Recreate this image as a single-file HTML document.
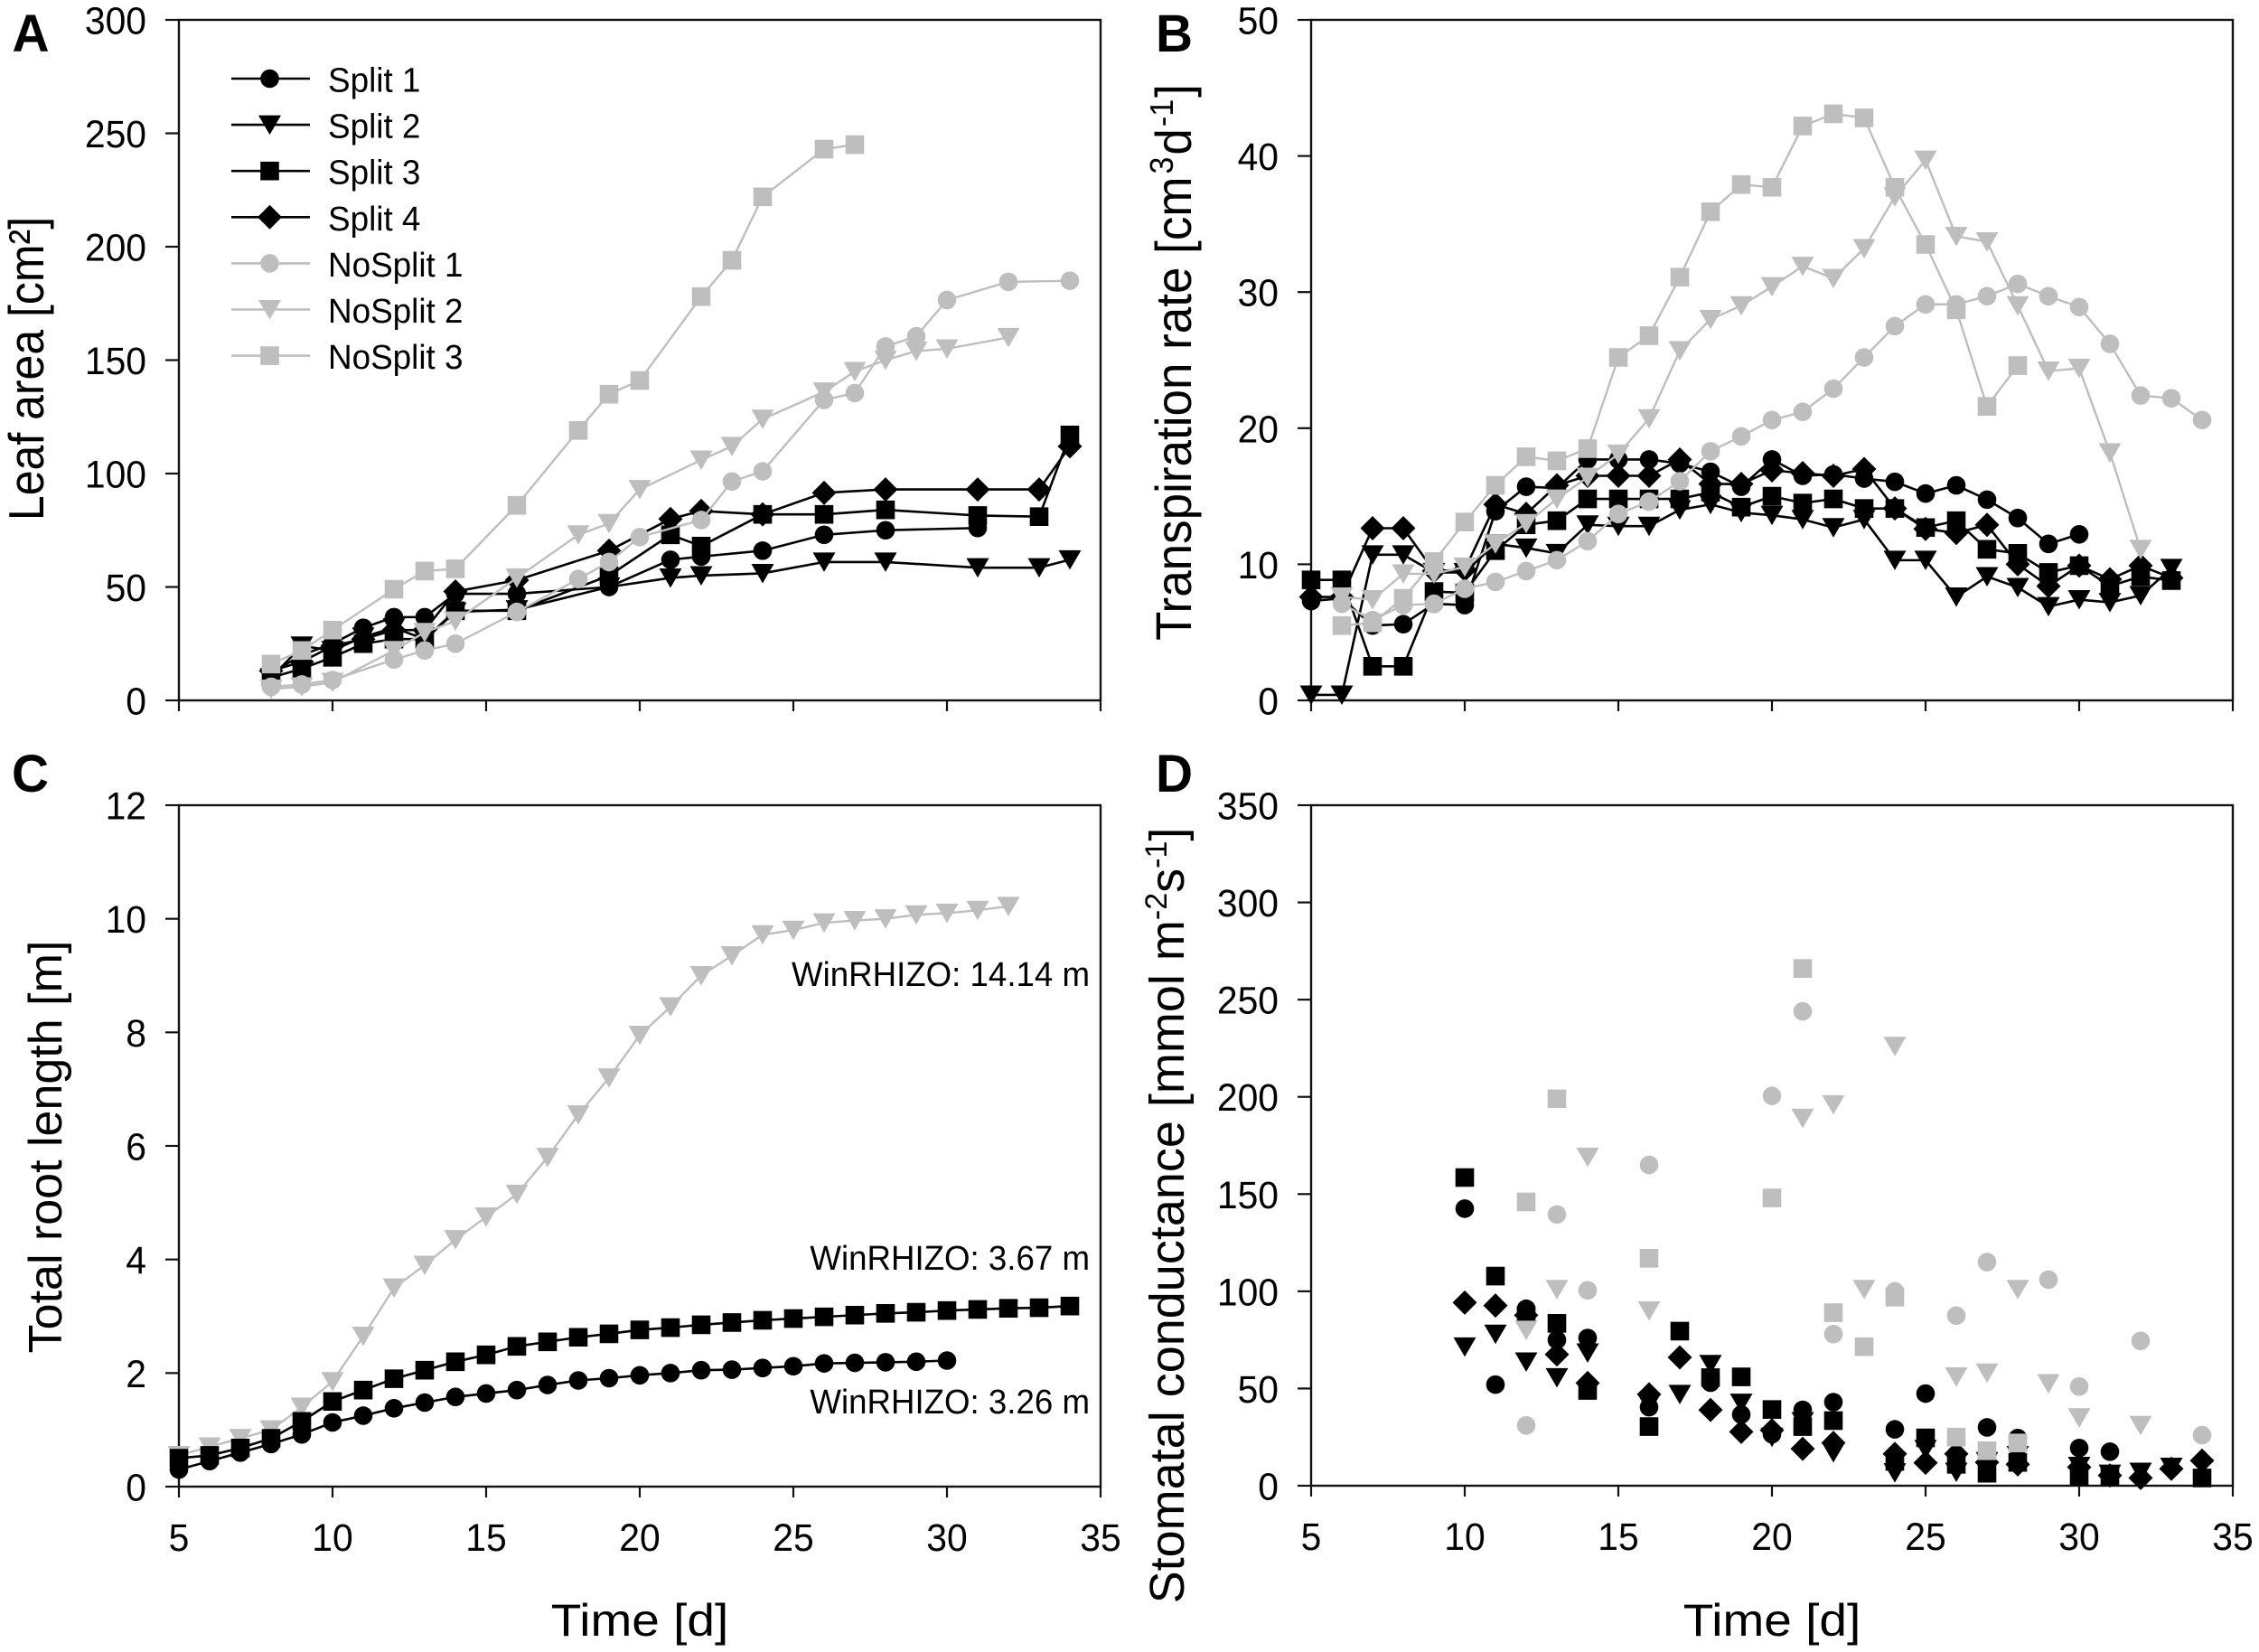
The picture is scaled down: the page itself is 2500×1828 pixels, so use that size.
<!DOCTYPE html>
<html lang="en">
<head>
<meta charset="utf-8">
<title>Leaf area, transpiration, root length and stomatal conductance</title>
<style>
html,body{margin:0;padding:0;background:#fff;}
svg{display:block;}
text{font-family:"Liberation Sans",Arial,sans-serif;fill:#000;}
</style>
</head>
<body>
<svg id="figure" xmlns="http://www.w3.org/2000/svg" width="2500" height="1828" viewBox="0 0 2500 1828">
<rect x="0" y="0" width="2500" height="1828" fill="#fff"/>
<text transform="translate(13.5,57) scale(0.98,1)" font-size="58" font-weight="bold">A</text>
<text transform="translate(1279,57) scale(0.98,1)" font-size="58" font-weight="bold">B</text>
<text transform="translate(13,876) scale(0.98,1)" font-size="58" font-weight="bold">C</text>
<text transform="translate(1279,876) scale(0.98,1)" font-size="58" font-weight="bold">D</text>
<text transform="translate(48,408) scale(1.1,1) rotate(-90)" text-anchor="middle" font-size="50">Leaf area [cm²]</text>
<text transform="translate(1318,401) scale(1.05,1) rotate(-90)" text-anchor="middle" font-size="53">Transpiration rate [cm<tspan font-size="34" dy="-19" dx="3">3</tspan><tspan dy="19" dx="2">d</tspan><tspan font-size="34" dy="-19" dx="2">-1</tspan><tspan dy="19" dx="2">]</tspan></text>
<text transform="translate(68,1269)  rotate(-90)" text-anchor="middle" font-size="52">Total root length [m]</text>
<text transform="translate(1310,1345) rotate(-90)" text-anchor="middle" font-size="54">Stomatal conductance [mmol m<tspan font-size="34" dy="-19">-2</tspan><tspan dy="19">s</tspan><tspan font-size="34" dy="-19">-1</tspan><tspan dy="19">]</tspan></text>
<text transform="translate(708,1810) scale(1.1,1)" text-anchor="middle" font-size="50">Time [d]</text>
<text transform="translate(1961,1810) scale(1.1,1)" text-anchor="middle" font-size="50">Time [d]</text>
<text transform="translate(1206,1091) scale(0.965,1)" text-anchor="end" font-size="38">WinRHIZO: 14.14 m</text>
<text transform="translate(1206,1405) scale(0.965,1)" text-anchor="end" font-size="38">WinRHIZO: 3.67 m</text>
<text transform="translate(1206,1564) scale(0.965,1)" text-anchor="end" font-size="38">WinRHIZO: 3.26 m</text>
<g id="plots"></g>
</svg>
<script>
// ---- Axis tick labels ----
const xTicks = [5, 10, 15, 20, 25, 30, 35];
const leafTicks = [0, 50, 100, 150, 200, 250, 300];
const transpirationTicks = [0, 10, 20, 30, 40, 50];
const rootTicks = [0, 2, 4, 6, 8, 10, 12];
const stomatalTicks = [0, 50, 100, 150, 200, 250, 300, 350];
const legendLabels = ["Split 1", "Split 2", "Split 3", "Split 4", "NoSplit 1", "NoSplit 2", "NoSplit 3"];

// ---- Panel A: leaf area ----
const leafDaysSplit = [8, 9, 10, 11, 12, 13, 14, 16, 19, 21, 22, 24, 26, 28, 31];
const leafSplit1 = [12, 20, 25, 32, 36.7, 36.7, 47, 47, 50, 62, 63.4, 66, 73, 75, 76];
const leafDaysSplit2to4 = [8, 9, 10, 11, 12, 13, 14, 16, 19, 21, 22, 24, 26, 28, 31, 33, 34];
const leafSplit2 = [10, 24, 22, 28, 32, 27, 39, 40, 50, 54, 55, 56, 61, 61, 58.5, 58.5, 62];
const leafSplit3 = [10, 14, 19, 25, 27, 27, 39.5, 39.5, 55, 73, 68, 82, 82, 84, 81.5, 81, 117];
const leafSplit4 = [13, 17, 24, 27, 31, 31, 48, 53, 66, 80, 83.5, 82, 91.5, 93, 93, 93, 112];
const leafDaysNo1 = [8, 9, 10, 12, 13, 14, 16, 18, 19, 20, 22, 23, 24, 26, 27, 28, 29, 30, 32, 34];
const leafNo1 = [6, 7, 9, 18, 22, 25, 39, 53.5, 61, 72, 79.5, 96.5, 101, 132.5, 135.5, 156, 160.5, 176.5, 184.5, 185];
const leafDaysNo2 = [8, 9, 10, 12, 13, 14, 16, 18, 19, 20, 22, 23, 24, 26, 27, 28, 29, 30, 32];
const leafNo2 = [5, 6, 8, 22, 30, 35, 54, 73, 78, 93, 106, 112, 124, 136, 145, 150, 154, 155, 160];
const leafDaysNo3 = [8, 9, 10, 12, 13, 14, 16, 18, 19, 20, 22, 23, 24, 26, 27];
const leafNo3 = [16, 22, 31, 49, 57, 58, 86, 119, 135, 141, 178, 194, 222, 243, 245];

// ---- Panel B: transpiration rate ----
const transDaysSplit1 = [5, 6, 7, 8, 9, 10, 11, 12, 13, 14, 15, 16, 17, 18, 19, 20, 21, 22, 23, 24, 25, 26, 27, 28, 29, 30];
const transSplit1 = [7.3, 7.5, 5.5, 5.6, 7.1, 7, 13.9, 15.7, 15.6, 17.7, 17.7, 17.7, 17.4, 16.8, 15.7, 17.7, 16.5, 16.6, 16.3, 16.06, 15.2, 15.8, 14.75, 13.4, 11.5, 12.2];
const transDaysSplit2to4 = [5, 6, 7, 8, 9, 10, 11, 12, 13, 14, 15, 16, 17, 18, 19, 20, 21, 22, 23, 24, 25, 26, 27, 28, 29, 30, 31, 32, 33];
const transSplit2 = [0.4, 0.4, 10.7, 10.7, 9.4, 9.4, 11.5, 11.2, 10.8, 12.9, 12.8, 12.8, 14, 14.4, 13.8, 13.6, 13.3, 12.7, 13.3, 10.3, 10.3, 7.6, 9.1, 8.3, 6.9, 7.4, 7.2, 7.7, 9.7];
const transSplit3 = [8.85, 8.85, 2.5, 2.5, 8, 7.9, 11, 12.9, 13.2, 14.8, 14.8, 14.8, 14.8, 15.3, 14.2, 15, 14.5, 14.8, 14.1, 14.1, 12.7, 13.2, 11.1, 10.8, 9.4, 9.9, 8.4, 9.1, 8.8];
const transSplit4 = [7.6, 7.6, 12.65, 12.65, 9.5, 9.6, 14.4, 13.7, 15.8, 16.5, 16.5, 16.5, 17.7, 15.9, 15.9, 16.9, 16.7, 16.5, 17, 14.1, 12.6, 12.3, 12.9, 10, 8.4, 9.9, 8.9, 9.9, 9];
const transDaysNo1 = [6, 7, 8, 9, 10, 11, 12, 13, 14, 15, 16, 17, 18, 19, 20, 21, 22, 23, 24, 25, 26, 27, 28, 29, 30, 31, 32, 33, 34];
const transNo1 = [7.1, 5.9, 7, 7.1, 8.2, 8.7, 9.5, 10.3, 11.7, 13.7, 14.6, 16.1, 18.3, 19.4, 20.6, 21.2, 22.9, 25.2, 27.5, 29.1, 29.1, 29.7, 30.6, 29.7, 28.9, 26.2, 22.4, 22.2, 20.6];
const transDaysNo2 = [6, 7, 8, 9, 10, 11, 12, 13, 14, 15, 16, 17, 18, 19, 20, 21, 22, 23, 24, 25, 26, 27, 28, 29, 30, 31, 32];
const transNo2 = [7.6, 7.4, 9.3, 9.3, 9.8, 11.5, 13, 14.8, 16.4, 18.1, 20.7, 25.7, 28, 29, 30.4, 31.9, 31, 33.2, 37, 39.7, 34.1, 33.7, 29, 24.2, 24.4, 18.2, 11.1];
const transDaysNo3 = [6, 7, 8, 9, 10, 11, 12, 13, 14, 15, 16, 17, 18, 19, 20, 21, 22, 23, 24, 25, 26, 27, 28];
const transNo3 = [5.5, 5.7, 7.5, 10.2, 13.1, 15.8, 17.9, 17.6, 18.5, 25.2, 26.8, 31.1, 35.9, 37.9, 37.7, 42.2, 43.1, 42.8, 37.7, 33.5, 28.7, 21.6, 24.6];

// ---- Panel C: total root length ----
const rootDaysCircle = [5, 6, 7, 8, 9, 10, 11, 12, 13, 14, 15, 16, 17, 18, 19, 20, 21, 22, 23, 24, 25, 26, 27, 28, 29, 30];
const rootCircle = [0.3, 0.45, 0.6, 0.75, 0.92, 1.13, 1.25, 1.38, 1.48, 1.58, 1.64, 1.7, 1.79, 1.87, 1.91, 1.96, 2, 2.05, 2.06, 2.09, 2.12, 2.17, 2.18, 2.19, 2.2, 2.22];
const rootDaysSquare = [5, 6, 7, 8, 9, 10, 11, 12, 13, 14, 15, 16, 17, 18, 19, 20, 21, 22, 23, 24, 25, 26, 27, 28, 29, 30, 31, 32, 33, 34];
const rootSquare = [0.5, 0.55, 0.68, 0.85, 1.15, 1.5, 1.7, 1.9, 2.05, 2.2, 2.32, 2.47, 2.55, 2.63, 2.69, 2.76, 2.8, 2.85, 2.89, 2.93, 2.96, 2.99, 3.02, 3.05, 3.07, 3.1, 3.12, 3.14, 3.15, 3.18];
const rootDaysNoSplit = [5, 6, 7, 8, 9, 10, 11, 12, 13, 14, 15, 16, 17, 18, 19, 20, 21, 22, 23, 24, 25, 26, 27, 28, 29, 30, 31, 32];
const rootNoSplit = [0.55, 0.7, 0.85, 1, 1.4, 1.85, 2.65, 3.5, 3.9, 4.35, 4.75, 5.15, 5.8, 6.55, 7.2, 7.95, 8.45, 9, 9.35, 9.72, 9.8, 9.93, 9.97, 10, 10.07, 10.1, 10.15, 10.22];

// ---- Panel D: stomatal conductance ----
const gsDaysSplit1 = [10, 11, 12, 13, 14, 16, 18, 19, 20, 21, 22, 24, 25, 26, 27, 28, 30, 31];
const gsSplit1 = [142.5, 52, 91, 75, 76, 40.4, 53, 36.6, 26.5, 39, 43, 29, 47.4, 16, 30, 24.5, 19.4, 17.5];
const gsDaysSplit2 = [10, 11, 12, 13, 14, 16, 17, 18, 19, 20, 21, 22, 24, 25, 26, 27, 28, 30, 31, 32, 33];
const gsSplit2 = [71.4, 78, 63.7, 55.6, 68.3, 42, 47, 62.4, 42.5, 25, 33, 17, 6.7, 18.7, 7, 12.5, 15.6, 10, 6, 7, 9.5];
const gsDaysSplit3 = [10, 11, 12, 13, 14, 16, 17, 18, 19, 20, 21, 22, 24, 25, 26, 27, 28, 30, 31, 34];
const gsSplit3 = [158.5, 107.8, 87.7, 83.5, 49, 30.4, 79.5, 55.6, 56, 39.2, 30.4, 33.5, 12.5, 24.6, 11, 6.4, 12, 5, 5, 4];
const gsDaysSplit4 = [10, 11, 12, 13, 14, 16, 17, 18, 19, 20, 21, 22, 24, 25, 26, 27, 28, 30, 31, 32, 33, 34];
const gsSplit4 = [94.2, 92.7, 87.7, 67.5, 52.8, 47, 66, 39, 27.7, 28.5, 19, 22, 16.4, 11.8, 16.4, 12, 11, 9.5, 5.3, 4, 8.7, 12.9];
const gsDaysNo1 = [12, 13, 14, 16, 20, 21, 22, 24, 26, 27, 29, 30, 32, 34];
const gsNo1 = [31, 139.5, 100.5, 165, 200.5, 244, 78, 100, 87.5, 115, 106, 51, 74.5, 26];
const gsDaysNo2 = [12, 13, 14, 16, 21, 22, 23, 24, 26, 27, 28, 29, 30, 32];
const gsNo2 = [80, 101, 169, 90, 189, 196, 101, 226, 56, 58, 101, 52.5, 35, 31];
const gsDaysNo3 = [12, 13, 16, 20, 21, 22, 23, 24, 26, 27, 28];
const gsNo3 = [146, 199, 117, 148, 266, 89, 71.5, 97, 25, 18, 22];

const SVGNS = "http://www.w3.org/2000/svg";
const GRAY = "#bebebe";
const INK = "#111";
const plots = document.getElementById("plots");

function make(tag, attrs, parent) {
  const el = document.createElementNS(SVGNS, tag);
  for (const k in attrs) el.setAttribute(k, attrs[k]);
  (parent || plots).appendChild(el);
  return el;
}

function markerPath(shape) {
  if (shape === "triangle") return "M-12.5,-10.5 L12.5,-10.5 L0,11 Z";
  if (shape === "square") return "M-10.3,-10.3 L10.3,-10.3 L10.3,10.3 L-10.3,10.3 Z";
  if (shape === "diamond") return "M-13.5,0 L0,-13.5 L13.5,0 L0,13.5 Z";
  return "M-10.3,0 A10.3,10.3 0 1 1 10.3,0 A10.3,10.3 0 1 1 -10.3,0 Z";
}

function drawMarker(group, shape, color, px, py) {
  const m = make("path", { d: markerPath(shape), fill: color, transform: "translate(" + px + "," + py + ")" }, group);
  
  
}

function drawAxes(panel) {
  const g = make("g", {});
  
  
  const frame = make("rect", { x: panel.left, y: panel.top, width: panel.right - panel.left, height: panel.bottom - panel.top, fill: "none", stroke: INK, "stroke-width": 2.4 }, g);
  
  
  xTicks.forEach(function (t) {
    const px = panel.x(t);
    const tick = make("line", { x1: px, x2: px, y1: panel.bottom, y2: panel.bottom + 12, stroke: INK, "stroke-width": 2.2 }, g);
    
    
    if (panel.xLabels) {
      const label = make("text", { transform: "translate(" + px + "," + (panel.bottom + 71) + ") scale(0.95,1)", "text-anchor": "middle", "font-size": 43 }, g);
      label.textContent = t;
      
      
    }
  });
  panel.yTicks.forEach(function (t) {
    const py = panel.y(t);
    const tick = make("line", { x1: panel.left - 15, x2: panel.left, y1: py, y2: py, stroke: INK, "stroke-width": 2.2 }, g);
    
    
    const label = make("text", { transform: "translate(" + (panel.left - 36) + "," + (py + 15.5) + ") scale(0.95,1)", "text-anchor": "end", "font-size": 43 }, g);
    label.textContent = t;
    
    
  });
}

function drawSeries(panel, name, days, values, shape, color, connected) {
  const g = make("g", {});
  
  
  if (connected) {
    const pts = days.map(function (d, i) { return panel.x(d) + "," + panel.y(values[i]); }).join(" ");
    const line = make("polyline", { points: pts, fill: "none", stroke: color, "stroke-width": color === GRAY ? 2.4 : 2.6, "stroke-linejoin": "round" }, g);
    
    
  }
  days.forEach(function (d, i) { drawMarker(g, shape, color, panel.x(d), panel.y(values[i])); });
}

function makePanel(name, left, top, bottom, yMax, yTicks, xLabels) {
  const right = left + 1020;
  return {
    name: name, left: left, right: right, top: top, bottom: bottom, yTicks: yTicks, xLabels: xLabels,
    x: function (d) { return left + (d - 5) * (right - left) / 30; },
    y: function (v) { return bottom - v * (bottom - top) / yMax; }
  };
}

const panelA = makePanel("leaf-area-panel", 198, 22, 775, 300, leafTicks, false);
const panelB = makePanel("transpiration-panel", 1451, 22, 775, 50, transpirationTicks, false);
const panelC = makePanel("root-length-panel", 198, 891, 1645, 12, rootTicks, true);
const panelD = makePanel("stomatal-panel", 1451, 891, 1644, 350, stomatalTicks, true);
[panelA, panelB, panelC, panelD].forEach(drawAxes);

drawSeries(panelA, "split-1", leafDaysSplit, leafSplit1, "circle", "#000", true);
drawSeries(panelA, "split-2", leafDaysSplit2to4, leafSplit2, "triangle", "#000", true);
drawSeries(panelA, "split-3", leafDaysSplit2to4, leafSplit3, "square", "#000", true);
drawSeries(panelA, "split-4", leafDaysSplit2to4, leafSplit4, "diamond", "#000", true);
drawSeries(panelA, "nosplit-3", leafDaysNo3, leafNo3, "square", GRAY, true);
drawSeries(panelA, "nosplit-2", leafDaysNo2, leafNo2, "triangle", GRAY, true);
drawSeries(panelA, "nosplit-1", leafDaysNo1, leafNo1, "circle", GRAY, true);

drawSeries(panelB, "split-1", transDaysSplit1, transSplit1, "circle", "#000", true);
drawSeries(panelB, "split-2", transDaysSplit2to4, transSplit2, "triangle", "#000", true);
drawSeries(panelB, "split-3", transDaysSplit2to4, transSplit3, "square", "#000", true);
drawSeries(panelB, "split-4", transDaysSplit2to4, transSplit4, "diamond", "#000", true);
drawSeries(panelB, "nosplit-3", transDaysNo3, transNo3, "square", GRAY, true);
drawSeries(panelB, "nosplit-2", transDaysNo2, transNo2, "triangle", GRAY, true);
drawSeries(panelB, "nosplit-1", transDaysNo1, transNo1, "circle", GRAY, true);

drawSeries(panelC, "nosplit-2", rootDaysNoSplit, rootNoSplit, "triangle", GRAY, true);
drawSeries(panelC, "split-3", rootDaysSquare, rootSquare, "square", "#000", true);
drawSeries(panelC, "split-1", rootDaysCircle, rootCircle, "circle", "#000", true);

drawSeries(panelD, "split-1", gsDaysSplit1, gsSplit1, "circle", "#000", false);
drawSeries(panelD, "split-2", gsDaysSplit2, gsSplit2, "triangle", "#000", false);
drawSeries(panelD, "split-3", gsDaysSplit3, gsSplit3, "square", "#000", false);
drawSeries(panelD, "split-4", gsDaysSplit4, gsSplit4, "diamond", "#000", false);
drawSeries(panelD, "nosplit-1", gsDaysNo1, gsNo1, "circle", GRAY, false);
drawSeries(panelD, "nosplit-2", gsDaysNo2, gsNo2, "triangle", GRAY, false);
drawSeries(panelD, "nosplit-3", gsDaysNo3, gsNo3, "square", GRAY, false);

const legend = make("g", {});


const legendShapes = ["circle", "triangle", "square", "diamond", "circle", "triangle", "square"];
legendLabels.forEach(function (lab, i) {
  const ly = 87 + i * 51.1;
  const color = i < 4 ? "#000" : GRAY;
  const entry = make("g", {}, legend);
  
  
  const sw = make("line", { x1: 256, x2: 343, y1: ly, y2: ly, stroke: color, "stroke-width": 2.6 }, entry);
  
  
  drawMarker(entry, legendShapes[i], color, 298.5, ly);
  const t = make("text", { transform: "translate(363," + (ly + 14.5) + ") scale(0.97,1)", "font-size": 38 }, entry);
  t.textContent = lab;
  
  
});
</script>
</body>
</html>
